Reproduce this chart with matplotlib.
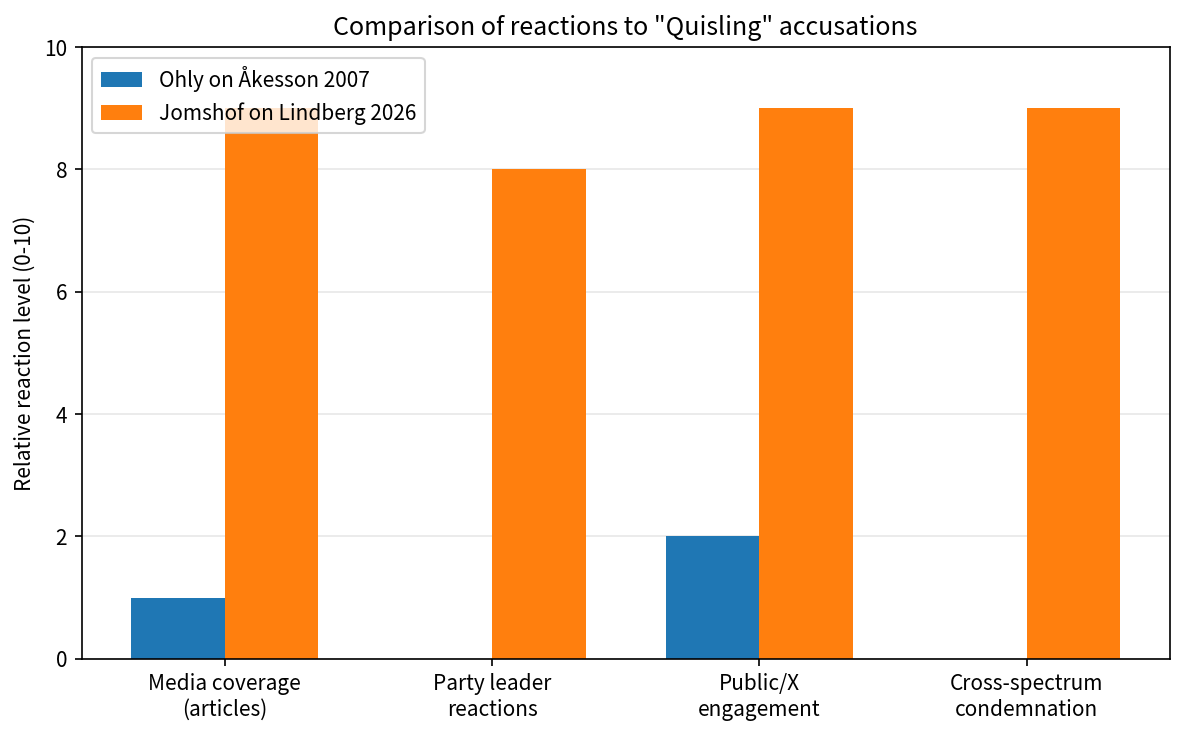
import matplotlib
matplotlib.use("Agg")
import matplotlib.pyplot as plt
import numpy as np

plt.rcParams['font.family'] = ['Noto Sans CJK JP', 'DejaVu Sans']

categories = ["Media coverage\n(articles)", "Party leader\nreactions", "Public/X\nengagement", "Cross-spectrum\ncondemnation"]
ohly = [1, 0, 2, 0]
jomshof = [9, 8, 9, 9]
series_names = ["Ohly on Åkesson 2007", "Jomshof on Lindberg 2026"]

x = np.arange(len(categories))
width = 0.35

fig, ax = plt.subplots(figsize=(7.9, 4.9067), dpi=150)
fig.subplots_adjust(left=0.069, right=0.987, top=0.936, bottom=0.105)

ax.bar(x - width / 2, ohly, width, label=series_names[0], color="#1f77b4")
ax.bar(x + width / 2, jomshof, width, label=series_names[1], color="#ff7f0e")

ax.set_xticks(x)
ax.set_xticklabels(categories, fontsize=10)
ax.set_ylim(0, 10)
ax.tick_params(axis="y", labelsize=10)
ax.set_ylabel("Relative reaction level (0-10)", fontsize=10)
ax.set_title('Comparison of reactions to "Quisling" accusations', fontsize=12)
ax.yaxis.grid(True, alpha=0.3)
ax.set_axisbelow(True)
ax.legend(loc="upper left", fontsize=10)

fig.savefig("out.png", dpi=150)
